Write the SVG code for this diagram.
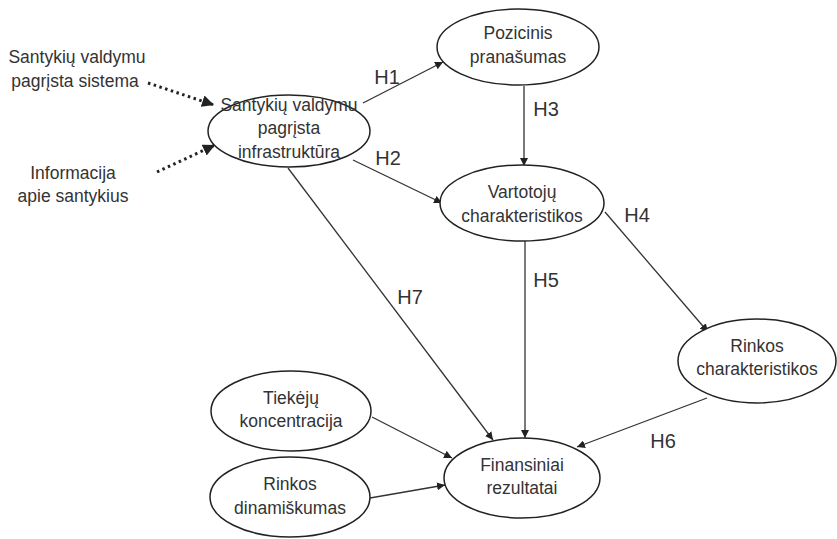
<svg xmlns="http://www.w3.org/2000/svg" width="837" height="539" viewBox="0 0 837 539">
<defs>
<marker id="ah" viewBox="0 0 10 10" refX="10" refY="5" markerWidth="8" markerHeight="8" markerUnits="userSpaceOnUse" orient="auto">
<path d="M0,0 L10,5 L0,10 z" fill="#222"/>
</marker>
<marker id="ahd" viewBox="0 0 10 10" refX="10" refY="5" markerWidth="12" markerHeight="12" markerUnits="userSpaceOnUse" orient="auto">
<path d="M0,0 L10,5 L0,10 z" fill="#222"/>
</marker>
</defs>
<style>
.n ellipse{fill:#fff;stroke:#222;stroke-width:1.5}
text{font-family:"Liberation Sans",Arial,sans-serif;font-size:17.5px;fill:#333;text-anchor:middle}
.h{font-size:20px}
.c line{stroke:#333;stroke-width:1.3;marker-end:url(#ah)}
.c line.d{stroke:#222;stroke-width:3;stroke-dasharray:2.5 3.5;marker-end:url(#ahd)}
</style>
<rect width="837" height="539" fill="#fff"/>
<g class="c" id="connectors">
<line class="d" x1="148" y1="83" x2="214" y2="105"/>
<line class="d" x1="157" y1="172" x2="215" y2="145"/>
<line x1="363" y1="103" x2="443" y2="62"/>
<line x1="353" y1="160" x2="442" y2="203"/>
<line x1="524" y1="86" x2="524" y2="166"/>
<line x1="605" y1="212" x2="708" y2="332"/>
<line x1="525" y1="241" x2="525" y2="438"/>
<line x1="288" y1="168" x2="493" y2="440"/>
<line x1="707" y1="398" x2="577" y2="447"/>
<line x1="372" y1="417" x2="452" y2="458"/>
<line x1="370" y1="498" x2="445" y2="485"/>
<text class="h" x="387" y="84">H1</text>
<text class="h" x="388" y="165">H2</text>
<text class="h" x="546" y="116">H3</text>
<text class="h" x="637" y="222">H4</text>
<text class="h" x="546" y="287">H5</text>
<text class="h" x="663" y="448">H6</text>
<text class="h" x="410" y="304">H7</text>
</g>
<g id="src1"><text x="77" y="63">Santykių valdymu</text><text x="75" y="87">pagrįsta sistema</text></g>
<g id="src2"><text x="73" y="179">Informacija</text><text x="73" y="202">apie santykius</text></g>
<g class="n" id="infra"><ellipse cx="289" cy="131" rx="81" ry="36"/><text x="289" y="111">Santykių valdymu</text><text x="289" y="134">pagrįsta</text><text x="289" y="158">infrastruktūra</text></g>
<g class="n" id="poz"><ellipse cx="518" cy="47" rx="81" ry="38"/><text x="518" y="39">Pozicinis</text><text x="518" y="63">pranašumas</text></g>
<g class="n" id="vart"><ellipse cx="522" cy="203" rx="82" ry="38"/><text x="522" y="198">Vartotojų</text><text x="522" y="222">charakteristikos</text></g>
<g class="n" id="rinch"><ellipse cx="757" cy="361" rx="79" ry="42"/><text x="757" y="352">Rinkos</text><text x="757" y="375">charakteristikos</text></g>
<g class="n" id="tiek"><ellipse cx="291" cy="411" rx="80" ry="40"/><text x="291" y="404">Tiekėjų</text><text x="291" y="427">koncentracija</text></g>
<g class="n" id="rindin"><ellipse cx="290" cy="497" rx="80" ry="40"/><text x="290" y="490">Rinkos</text><text x="290" y="514">dinamiškumas</text></g>
<g class="n" id="fin"><ellipse cx="522" cy="478" rx="78" ry="40"/><text x="522" y="471">Finansiniai</text><text x="522" y="494">rezultatai</text></g>
</svg>
